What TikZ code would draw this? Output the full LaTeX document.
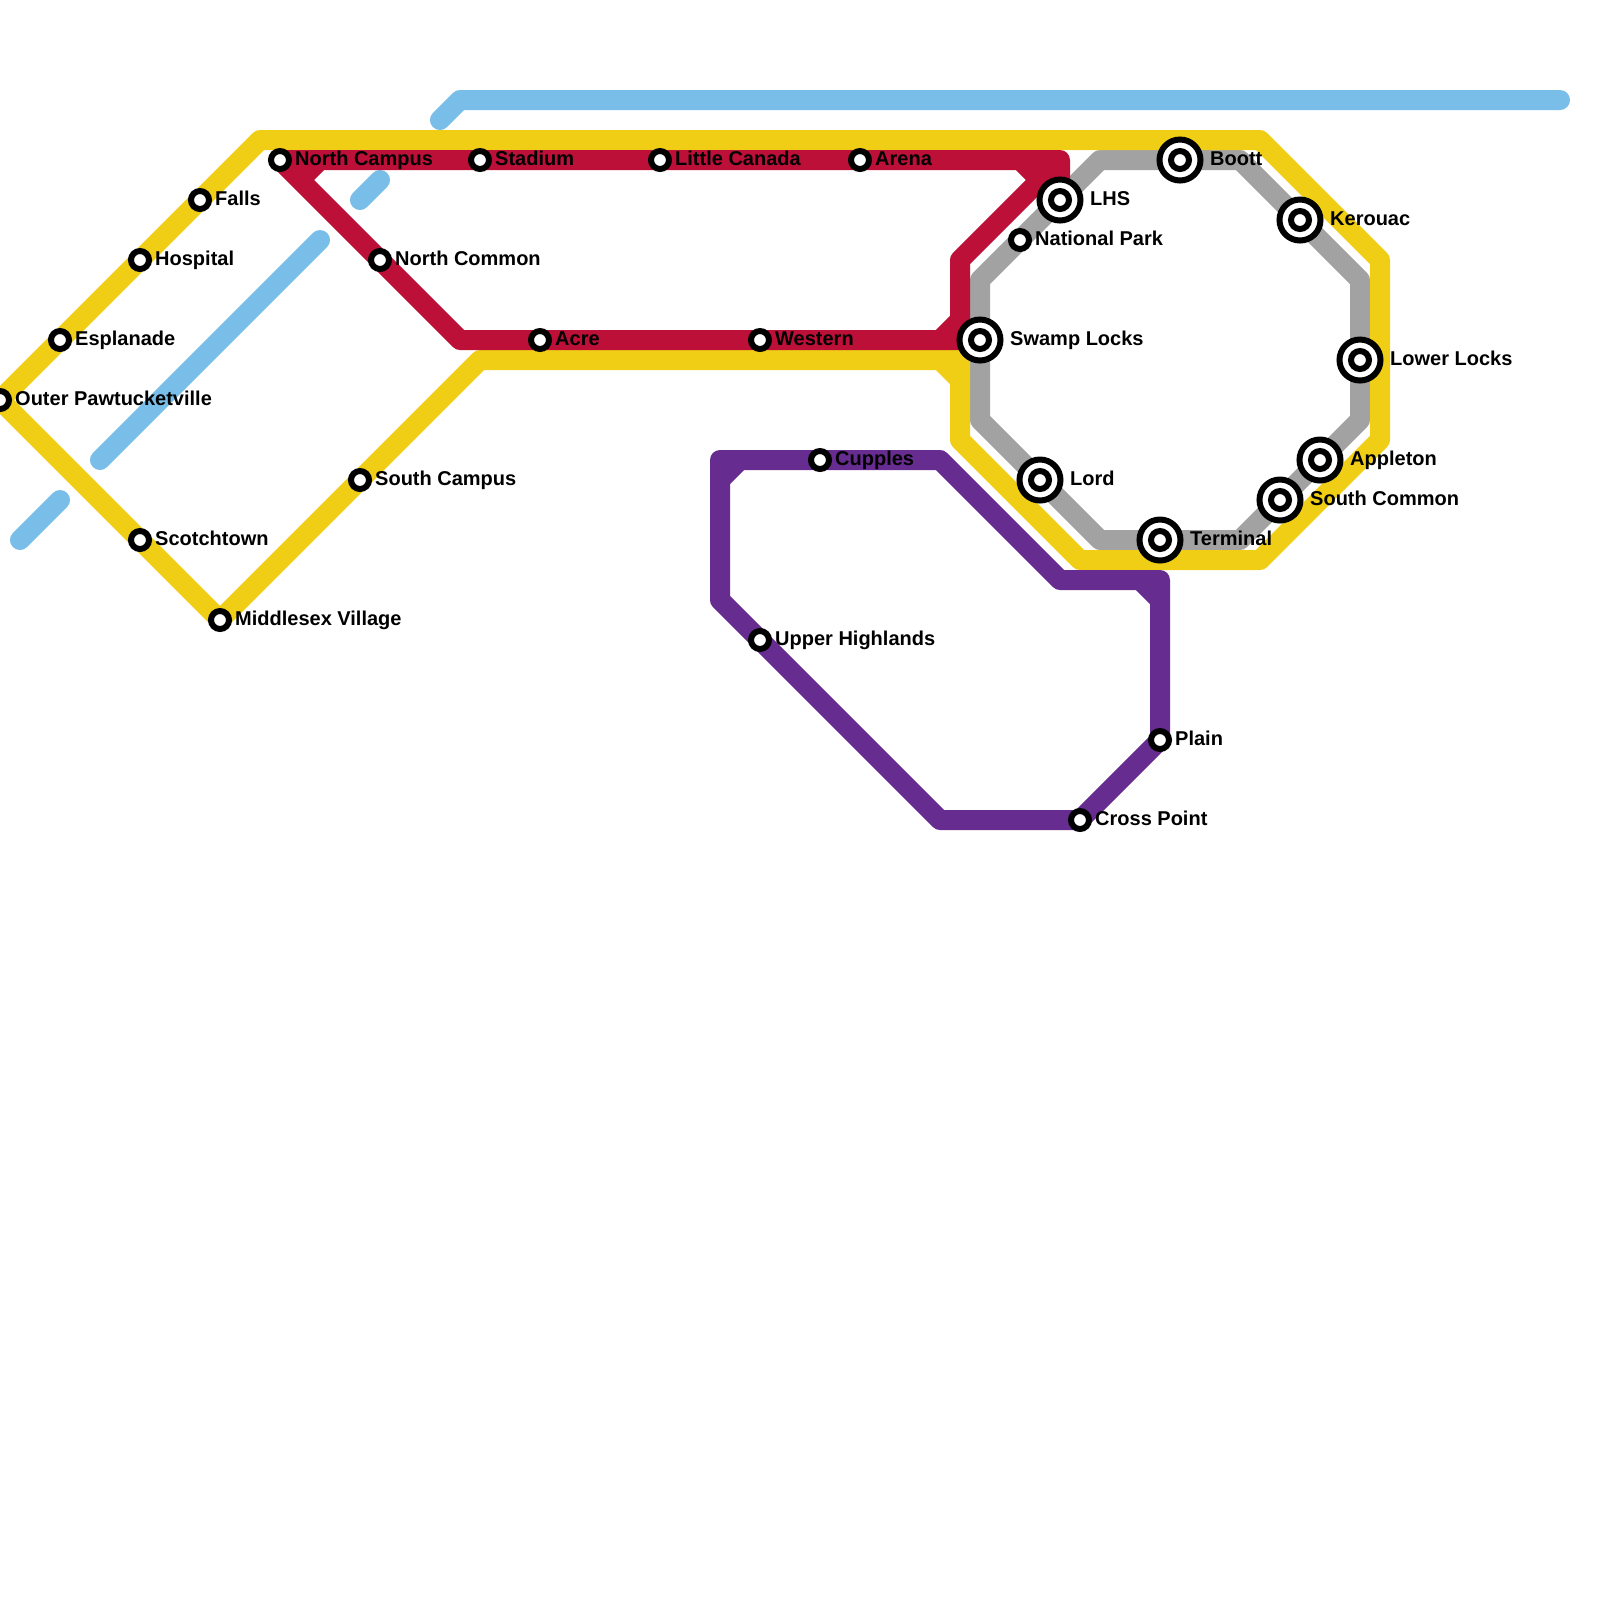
\documentclass[tikz,border=0pt]{standalone}
\usepackage{fontspec}
\setmainfont{Liberation Sans}
\definecolor{lnY}{HTML}{F0CE15}
\definecolor{lnR}{HTML}{BD1038}
\definecolor{lnP}{HTML}{662C90}
\definecolor{lnG}{HTML}{A2A2A2}
\definecolor{lnB}{HTML}{79BDE9}
\tikzset{
  metro/.style={line width=0.2cm, line join=round},
  water/.style={metro, lnB, line cap=round},
  stn/.style={circle, draw=black, fill=white, line width=0.06cm, inner sep=0pt, minimum size=0.18cm},
  stnbig/.style={stn, minimum size=0.41cm},
  stnlabel/.style={anchor=base west, inner sep=0pt, yshift=-0.055cm, font=\bfseries\fontsize{5.69pt}{6pt}\selectfont}
}

\begin{document}
\begin{tikzpicture}[x=0.2cm, y=-0.2cm]
  \useasboundingbox (0,0) rectangle (80,80);

  % ---- stations ----
  \foreach \n/\x/\y in {Outer/0/20, Esplanade/3/17, Hospital/7/13, Falls/10/10, Scotch/7/27,
      Middlesex/11/31, SCampus/18/24, NCampus/14/8, Stadium/24/8, Canada/33/8, Arena/43/8,
      NCommon/19/13, Acre/27/17, Western/38/17, Cupples/41/23, Upper/38/32, Plain/58/37,
      Cross/54/41, NatPark/51/12, Swamp/49/17, LHS/53/10, Boott/59/8, Kerouac/65/11,
      LowerL/68/18, Appleton/66/23, SCommon/64/25, Terminal/58/27, Lord/52/24} {
    \coordinate (\n) at (\x,\y);
  }

  % ---- bends ----
  \foreach \n/\x/\y in {yA/13/7, yB/63/7, yC/69/13, yD/69/22, yE/63/28, yF/54/28, yG/48/22,
      yH/48/18, yI/24/18, yJ/47/18, yK/48/19,
      rA/53/8, rB/48/13, rC/48/16, rD/47/17, rE/23/17, rF/15/9, rG/16/8, rH/51/8, rI/52/9,
      gA/55/8, gB/62/8, gC/68/14, gD/68/21, gE/62/27, gF/55/27, gG/49/21, gH/49/14,
      pA/36/23, pB/47/23, pC/53/29, pD/58/29, pE/47/41, pF/36/30, pG/36/24, pH/37/23,
      pI/57/29, pJ/58/30,
      bA/22/6, bB/23/5, bC/78/5, bD/18/10, bE/19/9, bF/5/23, bG/16/12, bH/1/27, bI/3/25} {
    \coordinate (\n) at (\x,\y);
  }

  % ---- water ----
  \draw[water] (bA) -- (bB) -- (bC);
  \draw[water] (bD) -- (bE);
  \draw[water] (bF) -- (bG);
  \draw[water] (bH) -- (bI);

  % ---- lines ----
  \draw[metro, lnG] (gA) -- (gB) -- (gC) -- (gD) -- (gE) -- (gF) -- (gG) -- (gH) -- cycle;
  \draw[metro, lnY] (Outer) -- (yA) -- (yB) -- (yC) -- (yD) -- (yE) -- (yF) -- (yG) -- (yH)
    -- (yI) -- (Middlesex) -- cycle;
  \draw[metro, lnY] (yJ) -- (yK);
  \draw[metro, lnR] (LHS) -- (rA) -- (NCampus) -- (rE) -- (Swamp);
  \draw[metro, lnR] (rA) -- (rB) -- (rC) -- (rD);
  \draw[metro, lnR] (rF) -- (rG);
  \draw[metro, lnR] (rH) -- (rI);
  \draw[metro, lnP] (pA) -- (pB) -- (pC) -- (pD) -- (Plain) -- (Cross) -- (pE) -- (pF) -- cycle;
  \draw[metro, lnP] (pG) -- (pH);
  \draw[metro, lnP] (pI) -- (pJ);

  % ---- small stops ----
  \foreach \n/\t in {Outer/Outer Pawtucketville, Esplanade/Esplanade, Hospital/Hospital, Falls/Falls,
      Scotch/Scotchtown, Middlesex/Middlesex Village, SCampus/South Campus, NCampus/North Campus,
      Stadium/Stadium, Canada/Little Canada, Arena/Arena, NCommon/North Common, Acre/Acre,
      Western/Western, Cupples/Cupples, Upper/Upper Highlands, Plain/Plain, Cross/Cross Point,
      NatPark/National Park} {
    \node[stn] (st\n) at (\n) {};
    \node[stnlabel, xshift=0.145cm] (lb\n) at (\n) {\t};
  }

  % ---- interchanges ----
  \foreach \n/\t in {Swamp/Swamp Locks, LHS/LHS, Boott/Boott, Kerouac/Kerouac, LowerL/Lower Locks,
      Appleton/Appleton, SCommon/South Common, Terminal/Terminal, Lord/Lord} {
    \node[stnbig] (st\n) at (\n) {};
    \node[stn] (in\n) at (\n) {};
    \node[stnlabel, xshift=0.295cm] (lb\n) at (\n) {\t};
  }
\end{tikzpicture}
\end{document}
